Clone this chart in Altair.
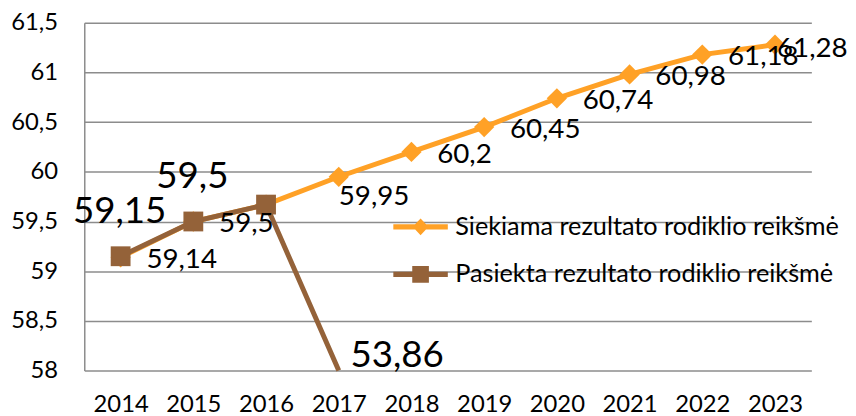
import altair as alt
import pandas as pd

# ---- data ----
years = [2014, 2015, 2016, 2017, 2018, 2019, 2020, 2021, 2022, 2023]
target_values = [59.14, 59.5, 59.67, 59.95, 60.2, 60.45, 60.74, 60.98, 61.18, 61.28]
achieved_years = [2014, 2015, 2016, 2017]
achieved_values = [59.15, 59.5, 59.67, 53.86]
series_names = ["Siekiama rezultato rodiklio reikšmė", "Pasiekta rezultato rodiklio reikšmė"]
y_ticks = [58, 58.5, 59, 59.5, 60, 60.5, 61, 61.5]

rows = [{"year": y, "value": v, "series": series_names[0]} for y, v in zip(years, target_values)]
rows += [{"year": y, "value": v, "series": series_names[1]} for y, v in zip(achieved_years, achieved_values)]
df = pd.DataFrame(rows)

FONT = "Lato"
ORANGE = "#FFA126"
BROWN = "#946239"
GRID = "#8c8c8c"

orange_path = ("M-1.375,-0.13L1.375,-0.13L1.375,0.13L-1.375,0.13Z "
               "M-0.4,0L0,-0.42L0.4,0L0,0.42Z")
brown_path = ("M-1.375,-0.13L1.375,-0.13L1.375,0.13L-1.375,0.13Z "
              "M-0.42,-0.42L0.42,-0.42L0.42,0.42L-0.42,0.42Z")

x = alt.X("year:O", title=None,
          axis=alt.Axis(labelAngle=0, domain=False, ticks=False, labelFontSize=24,
                        labelPadding=22, labelFont=FONT, labelColor="black"))
y = alt.Y("value:Q", title=None,
          scale=alt.Scale(domain=[58, 61.5], clamp=True, nice=False, zero=False),
          axis=alt.Axis(values=y_ticks, labelExpr="replace(toString(datum.value), '.', ',')",
                        domain=True, domainColor=GRID, domainWidth=1.5, ticks=False,
                        grid=True, gridColor=GRID, gridWidth=1.5, labelFontSize=24,
                        labelPadding=27, labelFont=FONT, labelColor="black"))

base = alt.Chart(df).transform_calculate(
    label="replace(toString(datum.value), '.', ',')")
target = base.transform_filter(alt.datum.series == series_names[0])
achieved = base.transform_filter(alt.datum.series == series_names[1])

line_t = target.mark_line(strokeWidth=5, color=ORANGE).encode(x=x, y=y)
pts_t = target.mark_point(shape="diamond", filled=True, size=420, opacity=1, color=ORANGE).encode(x=x, y=y)
line_a = achieved.mark_line(strokeWidth=5, color=BROWN).encode(x=x, y=y)
pts_a = achieved.transform_filter(alt.datum.value >= 58).mark_point(
    shape="square", filled=True, size=400, opacity=1, color=BROWN).encode(x=x, y=y)

# target labels
lab_t_main = target.transform_filter(
    "datum.year != 2016 && datum.year != 2017 && datum.year != 2023").mark_text(
    align="left", baseline="middle", dx=26, dy=3, fontSize=28, font=FONT, color="black"
).encode(x=x, y=y, text="label:N")
lab_t_2017 = target.transform_filter("datum.year == 2017").mark_text(
    align="left", baseline="middle", dx=0, dy=20, fontSize=28, font=FONT, color="black"
).encode(x=x, y=y, text="label:N")
lab_t_2023 = target.transform_filter("datum.year == 2023").mark_text(
    align="left", baseline="middle", dx=2, dy=4, fontSize=28, font=FONT, color="black"
).encode(x=x, y=y, text="label:N")

# achieved labels
lab_a_main = achieved.transform_filter("datum.year < 2016").mark_text(
    align="center", baseline="middle", dx=-1, dy=-45, fontSize=37, font=FONT, color="black"
).encode(x=x, y=y, text="label:N")
lab_a_2017 = achieved.transform_filter("datum.year == 2017").mark_text(
    align="center", baseline="middle", dx=59, dy=-15, fontSize=37, font=FONT, color="black"
).encode(x=x, y=y, text="label:N")

legend = alt.Legend(orient="none", legendX=319.5, legendY=186, title=None,
                    symbolSize=1600, symbolStrokeWidth=0, labelFontSize=25.5,
                    labelFont=FONT, labelColor="black", labelOffset=15,
                    rowPadding=14, padding=0, labelLimit=600, symbolOpacity=1)
legend_layer = base.mark_point(filled=True, opacity=0).encode(
    x=x, y=y,
    color=alt.Color("series:N", scale=alt.Scale(domain=series_names, range=[ORANGE, BROWN]),
                    legend=legend),
    shape=alt.Shape("series:N", scale=alt.Scale(domain=series_names, range=[orange_path, brown_path]),
                    legend=legend),
)

chart = alt.layer(
    line_t, pts_t, line_a, pts_a, lab_t_main, lab_t_2017, lab_t_2023, lab_a_main, lab_a_2017, legend_layer
).properties(
    width=734, height=351,
    padding={"left": 77, "top": 13, "right": 37, "bottom": 44},
    autosize=alt.AutoSizeParams(type="none"),
    background="white",
).configure_view(stroke=None)

chart.save("out.html", embed_options={"renderer": "svg", "actions": False})
